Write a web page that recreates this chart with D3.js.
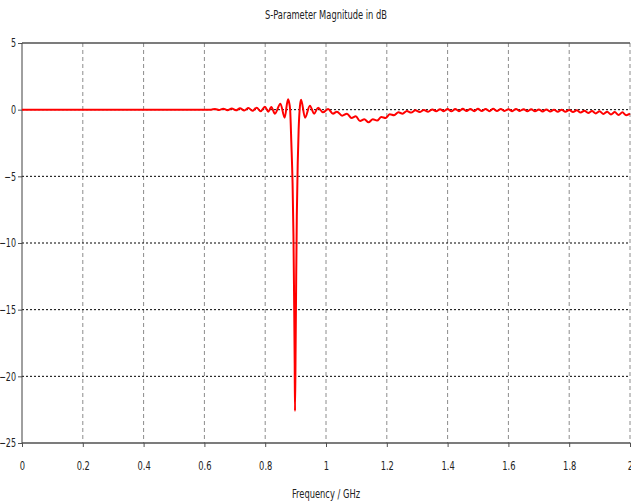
<!DOCTYPE html>
<html>
<head>
<meta charset="utf-8">
<script src="https://cdn.jsdelivr.net/npm/d3@7"></script>
<style>
  html, body { margin: 0; padding: 0; background: #fff; }
  svg { display: block; }
  text { font-family: "DejaVu Sans Condensed", "DejaVu Sans", sans-serif; fill: #222; }
</style>
</head>
<body>
<svg id="chart" width="631" height="504"></svg>
<script>
// S-parameter sweep: frequency (GHz) and magnitude (dB)
const freq = [
  0.000, 0.300, 0.600, 0.622,
  0.635, 0.648, 0.662, 0.676, 0.690, 0.704, 0.717, 0.731, 0.745, 0.758,
  0.772, 0.785, 0.799, 0.810, 0.820, 0.832, 0.850, 0.864, 0.875,
  0.879, 0.882, 0.886, 0.890, 0.893, 0.895, 0.897, 0.898, 0.900, 0.902,
  0.904, 0.907, 0.910, 0.914, 0.918,
  0.931, 0.947, 0.961, 0.974, 0.990, 1.007, 1.023, 1.036, 1.053, 1.069,
  1.084, 1.098, 1.112, 1.126, 1.140, 1.154, 1.168, 1.182, 1.196, 1.210,
  1.224, 1.238, 1.252, 1.266, 1.280, 1.294, 1.308, 1.322, 1.336,
  1.350, 1.3625, 1.375, 1.3875, 1.400, 1.4125, 1.425, 1.4375, 1.450, 1.4625,
  1.475, 1.4875, 1.500, 1.5125, 1.525, 1.5375, 1.550, 1.5625, 1.575, 1.5875,
  1.600, 1.6125, 1.625, 1.6375, 1.650, 1.6625, 1.675, 1.6875, 1.700, 1.7125,
  1.725, 1.7375, 1.750, 1.7625, 1.775, 1.7875, 1.800, 1.8125, 1.825, 1.8375,
  1.850, 1.8625, 1.875, 1.8875, 1.900, 1.9125, 1.925, 1.9375, 1.950, 1.9625,
  1.975, 1.9875, 2.000
];
const magDb = [
  0.00, 0.00, 0.00, 0.00,
  0.05, -0.03, 0.07, -0.04, 0.08, -0.05, 0.10, -0.06, 0.12, -0.08,
  0.15, -0.12, 0.22, -0.15, 0.20, -0.30, 0.45, -0.60, 0.78,
  0.50, 0.00, -2.5, -5.5, -9.5, -14.0, -19.0, -22.6, -18.0, -12.5,
  -8.0, -4.0, -1.5, 0.20, 0.75,
  -0.60, 0.30, -0.30, 0.15, -0.20, 0.05, -0.30, -0.15, -0.45, -0.30,
  -0.62, -0.50, -0.85, -0.72, -0.95, -0.72, -0.82, -0.55, -0.62, -0.35,
  -0.42, -0.20, -0.30, -0.10, -0.22, -0.05, -0.18, -0.02, -0.15,
  0.02, -0.12, 0.04, -0.11, 0.05, -0.12, 0.05, -0.11, 0.06, -0.10,
  0.05, -0.11, 0.06, -0.10, 0.05, -0.11, 0.06, -0.10, 0.05, -0.10,
  0.04, -0.11, 0.05, -0.10, 0.04, -0.12, 0.03, -0.12, 0.02, -0.13,
  0.02, -0.14, 0.00, -0.15, 0.00, -0.16, -0.02, -0.18, -0.05, -0.22,
  -0.08, -0.25, -0.10, -0.28, -0.12, -0.32, -0.15, -0.36, -0.18, -0.40,
  -0.20, -0.42, -0.30
];

const xTicks = [0, 0.2, 0.4, 0.6, 0.8, 1, 1.2, 1.4, 1.6, 1.8, 2];
const yTicks = [5, 0, -5, -10, -15, -20, -25];

const titleText = "S-Parameter Magnitude in dB";
const xLabel = "Frequency / GHz";

const W = 631, H = 504;
const margin = { top: 43, right: 1, bottom: 61, left: 22 };
const squeeze = 0.74; // narrow lettering

const svg = d3.select("#chart");
const x = d3.scaleLinear().domain([0, 2]).range([margin.left, W - margin.right]);
const y = d3.scaleLinear().domain([-25, 5]).range([H - margin.bottom, margin.top]);

// vertical grid (dashed grey)
svg.append("g")
  .selectAll("line")
  .data(xTicks.filter(d => d > 0))
  .join("line")
  .attr("x1", d => x(d)).attr("x2", d => x(d))
  .attr("y1", y(5)).attr("y2", y(-25))
  .attr("stroke", "#8c8c8c")
  .attr("stroke-width", 1)
  .attr("stroke-dasharray", "4,3");

// horizontal grid (dotted black)
svg.append("g")
  .selectAll("line")
  .data(yTicks.filter(d => d < 5 && d > -25))
  .join("line")
  .attr("x1", x(0)).attr("x2", x(2))
  .attr("y1", d => y(d)).attr("y2", d => y(d))
  .attr("stroke", "#000")
  .attr("stroke-width", 1)
  .attr("stroke-dasharray", "2,2");

// top and bottom frame lines
svg.append("g")
  .selectAll("line")
  .data([5, -25])
  .join("line")
  .attr("x1", x(0)).attr("x2", x(2))
  .attr("y1", d => y(d)).attr("y2", d => y(d))
  .attr("stroke", "#505050")
  .attr("stroke-width", 1.5);

// axes
const xAxis = d3.axisBottom(x).tickValues(xTicks).tickSize(4).tickPadding(14)
  .tickFormat(d3.format("~g"));
const yAxis = d3.axisLeft(y).tickValues(yTicks).tickSize(4).tickPadding(2)
  .tickFormat(d3.format("~g"));

const gx = svg.append("g").attr("transform", `translate(0,${y(-25)})`).call(xAxis);
const gy = svg.append("g").attr("transform", `translate(${x(0)},0)`).call(yAxis);
[[gx, 12.5], [gy, 12]].forEach(([g, fs]) => {
  g.select(".domain").remove();
  g.selectAll(".tick line").attr("stroke", "#505050");
  g.selectAll(".tick text").each(function () {
    const t = d3.select(this);
    const tx = +t.attr("x") || 0;
    const ty = +t.attr("y") || 0;
    t.attr("x", 0).attr("y", 0)
      .attr("transform", `translate(${tx},${ty}) scale(${squeeze},1)`)
      .attr("font-size", fs)
      .attr("fill", "#222")
      .style("font-family", '"DejaVu Sans Condensed", "DejaVu Sans", sans-serif');
  });
});

// left axis line
svg.append("line")
  .attr("x1", x(0)).attr("x2", x(0))
  .attr("y1", y(5)).attr("y2", y(-25))
  .attr("stroke", "#404040").attr("stroke-width", 1);

// curve
const points = freq.map((f, i) => [f, magDb[i]]);
const line = d3.line().x(d => x(d[0])).y(d => y(d[1])).curve(d3.curveMonotoneX);
svg.append("path")
  .datum(points)
  .attr("d", line)
  .attr("fill", "none")
  .attr("stroke", "#ff0000")
  .attr("stroke-width", 2)
  .attr("stroke-linejoin", "round");

// titles
const cx = (x(0) + x(2)) / 2;
svg.append("text")
  .attr("transform", `translate(${cx},19) scale(${squeeze},1)`)
  .attr("text-anchor", "middle").attr("font-size", 12.5)
  .text(titleText);
svg.append("text")
  .attr("transform", `translate(${cx},498) scale(${squeeze},1)`)
  .attr("text-anchor", "middle").attr("font-size", 12.5)
  .text(xLabel);
</script>
</body>
</html>
